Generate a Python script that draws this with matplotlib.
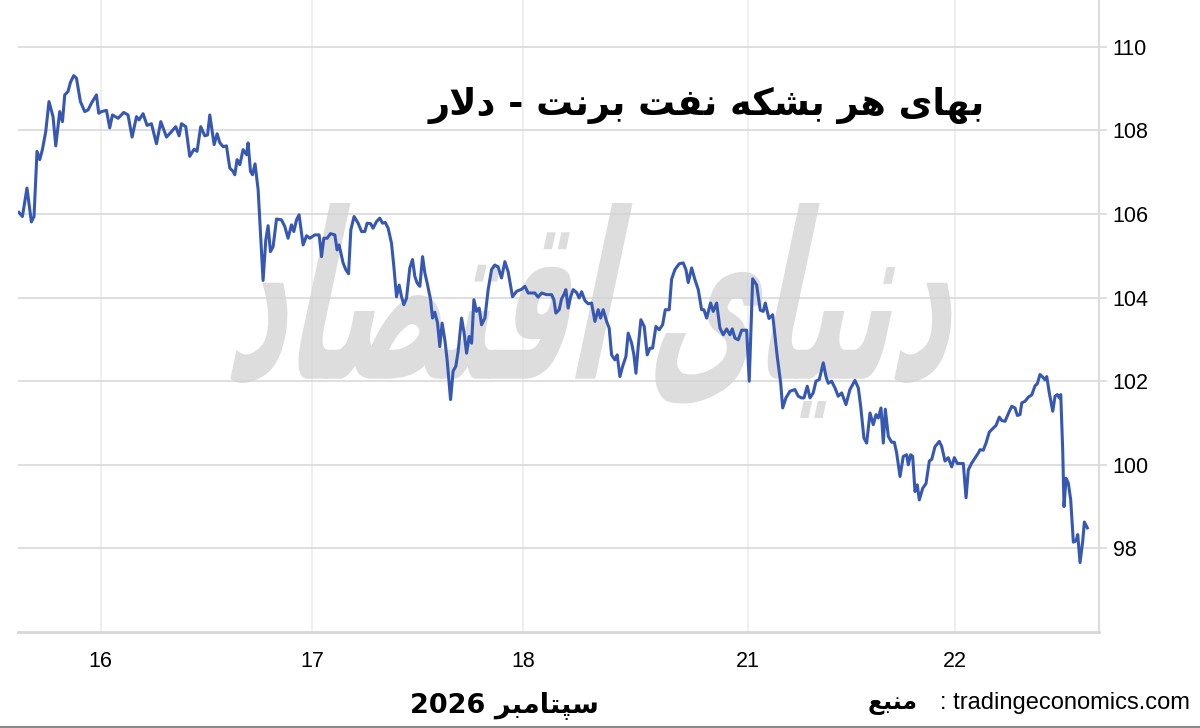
import matplotlib
matplotlib.use('Agg')
import matplotlib.pyplot as plt
from matplotlib.textpath import TextPath
from matplotlib.patches import PathPatch
from matplotlib.font_manager import FontProperties
from matplotlib.transforms import Affine2D
from matplotlib.lines import Line2D

# hours since the open of the 16th, Brent price in dollars
hours = [-9.3, -8.9, -8.38, -7.88, -7.58, -7.24, -6.93, -6.63, -6.25, -5.88,
         -5.42, -5.11, -4.66, -4.35, -4.09, -3.72, -3.44, -3.07, -2.76, -2.31,
         -1.82, -1.44, -1.06, -0.49, -0.23, 0.08, 0.65, 1.02, 1.33, 1.97,
         2.61, 3.10, 3.56, 4.06, 4.35, 4.81, 5.26, 5.76, 6.33, 6.82,
         7.47, 8.03, 8.52, 8.90, 9.17, 9.66, 10.11, 10.60, 10.94, 11.36,
         11.82, 12.13, 12.39, 12.88, 13.22, 13.52, 13.90, 14.28, 14.66, 15.03,
         15.23, 15.49, 15.80, 16.17, 16.56, 16.74, 17.01, 17.24, 17.53, 17.88,
         18.44, 18.75, 19.01, 19.28, 19.58, 19.97, 20.53, 20.91, 21.28, 21.67,
         21.93, 22.24, 22.53, 22.99, 23.38, 23.75, 24.32, 24.81, 25.08, 25.34,
         25.72, 26.10, 26.59, 26.85, 27.08, 27.53, 27.84, 28.15, 28.41, 28.78,
         29.24, 29.63, 30.00, 30.26, 30.65, 30.94, 31.33, 31.70, 32.01, 32.31,
         32.65, 33.03, 33.30, 33.60, 33.90, 34.17, 34.43, 34.74, 35.11, 35.42,
         35.68, 35.94, 36.25, 36.56, 36.82, 37.08, 37.47, 37.69, 37.95, 38.26,
         38.52, 38.78, 39.09, 39.35, 39.74, 40.03, 40.34, 40.60, 40.99, 41.28,
         41.56, 41.85, 42.13, 42.39, 42.69, 42.99, 43.26, 43.64, 44.01, 44.40,
         44.77, 45.15, 45.53, 45.91, 46.28, 46.78, 47.24, 47.81, 48.18, 48.56,
         49.32, 49.69, 50.08, 50.65, 51.22, 51.48, 51.70, 52.08, 52.35, 52.61,
         52.84, 53.10, 53.38, 53.67, 54.06, 54.35, 54.63, 55.00, 55.38, 55.76,
         56.14, 56.51, 56.78, 57.08, 57.47, 57.76, 58.03, 58.41, 58.67, 58.98,
         59.28, 59.66, 59.92, 60.31, 60.57, 60.80, 61.06, 61.36, 61.74, 62.08,
         62.39, 62.69, 63.07, 63.44, 63.83, 64.13, 64.58, 64.85, 65.23, 65.72,
         66.17, 66.48, 66.74, 67.13, 67.50, 67.88, 68.26, 68.52, 68.83, 69.28,
         69.58, 69.97, 70.34, 70.72, 71.10, 71.48, 71.74, 72.05, 72.42, 72.81,
         73.38, 73.67, 74.06, 74.51, 74.92, 75.26, 75.49, 75.91, 76.33, 76.85,
         77.24, 77.47, 77.84, 78.30, 78.86, 79.24, 79.62, 79.89, 80.26, 80.57,
         80.94, 81.25, 81.63, 82.08, 82.39, 82.65, 83.03, 83.41, 83.78, 84.17,
         84.66, 85.11, 85.68, 86.06, 86.33, 86.70, 87.01, 87.39, 87.76, 88.07,
         88.33, 88.64, 88.90, 89.13, 89.47, 89.85, 90.15, 90.42, 90.80, 91.17,
         91.56, 91.74, 92.01, 92.24, 92.50, 92.76, 92.99, 93.38, 93.75, 94.13,
         94.40, 94.77, 95.26, 95.53, 95.91, 96.28, 96.67, 96.97, 97.31, 97.99,
         98.30, 98.56, 98.94, 99.32, 99.69, 99.89, 100.26, 100.57, 100.94, 101.40,
         101.70, 102.08, 102.35, 102.73, 103.22, 103.49, 103.86, 104.13, 104.43, 104.63,
         105.00, 105.38, 105.76, 106.14, 106.40, 106.70, 107.01, 107.27, 107.47, 107.76,
         108.15, 108.41, 108.67, 108.90, 109.06, 109.28, 109.43, 109.66, 109.92, 110.19,
         110.49, 110.80, 110.99, 111.25, 111.56, 111.74, 112.08]

price = [106.04, 105.94, 106.62, 105.81, 105.94, 107.50, 107.30, 107.54, 107.97, 108.69,
         108.33, 107.63, 108.45, 108.21, 108.85, 108.93, 109.15, 109.31, 109.25, 108.69,
         108.45, 108.49, 108.65, 108.85, 108.41, 108.45, 108.48, 108.06, 108.37, 108.29,
         108.43, 108.37, 107.84, 108.33, 108.25, 108.40, 108.12, 108.16, 107.68, 108.21,
         107.84, 107.97, 108.09, 107.87, 108.16, 108.09, 107.38, 107.55, 107.50, 108.09,
         107.87, 107.89, 108.37, 107.66, 107.92, 107.71, 107.61, 107.63, 107.10, 107.02,
         106.94, 107.30, 107.18, 107.54, 107.42, 107.70, 107.02, 106.94, 107.20, 106.58,
         104.41, 105.38, 105.72, 105.10, 105.22, 105.88, 105.86, 105.70, 105.42, 105.74,
         105.58, 105.86, 105.98, 105.26, 105.48, 105.42, 105.50, 105.50, 104.98, 105.42,
         105.42, 105.53, 105.50, 105.14, 105.26, 104.83, 104.67, 104.57, 105.62, 105.94,
         105.78, 105.58, 105.58, 105.78, 105.77, 105.66, 105.82, 105.90, 105.78, 105.80,
         105.66, 105.30, 104.74, 104.02, 104.30, 104.02, 103.83, 103.99, 104.71, 104.91,
         104.51, 104.35, 104.27, 104.98, 104.59, 104.35, 103.95, 103.51, 103.65, 103.39,
         102.83, 103.39, 102.99, 102.51, 101.56, 102.24, 102.36, 102.71, 103.51, 103.15,
         102.67, 103.07, 102.91, 103.95, 103.67, 103.75, 103.35, 103.51, 104.19, 104.67,
         104.78, 104.73, 104.47, 104.86, 104.62, 104.02, 104.15, 104.20, 104.27, 104.11,
         104.11, 104.01, 104.11, 104.07, 104.07, 103.95, 103.63, 103.71, 103.97, 104.07,
         104.19, 103.75, 104.02, 104.19, 104.12, 103.99, 104.14, 103.93, 103.85, 103.87,
         103.43, 103.71, 103.51, 103.71, 103.43, 103.27, 102.63, 102.51, 102.63, 102.11,
         102.35, 102.59, 103.15, 102.91, 102.63, 102.19, 102.83, 103.47, 103.31, 102.63,
         102.79, 102.79, 103.31, 103.23, 103.35, 103.71, 103.71, 104.44, 104.67, 104.81,
         104.83, 104.67, 104.36, 104.71, 104.43, 104.19, 103.71, 103.71, 103.51, 103.87,
         103.67, 103.87, 103.27, 103.11, 103.25, 103.11, 103.25, 103.03, 102.99, 103.22,
         103.22, 102.00, 104.45, 104.30, 103.70, 103.67, 103.87, 103.50, 103.59, 102.59,
         101.96, 101.36, 101.60, 101.76, 101.80, 101.64, 101.60, 101.60, 101.88, 101.60,
         101.72, 102.00, 102.04, 102.44, 102.11, 101.95, 102.00, 101.84, 101.64, 101.72,
         101.44, 101.80, 102.02, 101.84, 101.40, 100.64, 100.52, 101.24, 100.96, 101.20,
         101.12, 101.36, 100.52, 101.33, 100.68, 100.54, 100.54, 100.28, 99.72, 100.20,
         100.24, 100.00, 100.24, 100.20, 99.36, 99.52, 99.16, 99.44, 99.55, 100.09,
         100.13, 100.43, 100.56, 100.44, 100.09, 100.17, 99.95, 100.17, 100.03, 100.03,
         99.21, 99.88, 100.04, 100.16, 100.28, 100.36, 100.35, 100.52, 100.78, 100.88,
         100.94, 101.14, 101.06, 101.04, 101.28, 101.40, 101.36, 101.18, 101.20, 101.48,
         101.52, 101.62, 101.67, 101.89, 101.94, 102.16, 102.10, 102.03, 102.11, 101.72,
         101.28, 101.64, 101.68, 101.60, 101.68, 100.36, 99.00, 99.68, 99.56, 99.16,
         98.15, 98.18, 98.33, 97.66, 98.18, 98.63, 98.49]

day_pos = [0, 24, 48, 73.5, 97]
day_labels = ['16', '17', '18', '21', '22']
price_ticks = [98, 100, 102, 104, 106, 108, 110]

title = 'بهای هر بشکه نفت برنت - دلار'
month = 'سپتامبر'
year = '2026'
source_word = 'منبع'
source = ': tradingeconomics.com'
watermark = 'دنیای اقتصاد'

# isolated, final, initial, medial
FORMS = {
    'ا': ('\uFE8D', '\uFE8E', None, None),
    'ب': ('\uFE8F', '\uFE90', '\uFE91', '\uFE92'),
    'پ': ('\uFB56', '\uFB57', '\uFB58', '\uFB59'),
    'ت': ('\uFE95', '\uFE96', '\uFE97', '\uFE98'),
    'د': ('\uFEA9', '\uFEAA', None, None),
    'ر': ('\uFEAD', '\uFEAE', None, None),
    'س': ('\uFEB1', '\uFEB2', '\uFEB3', '\uFEB4'),
    'ش': ('\uFEB5', '\uFEB6', '\uFEB7', '\uFEB8'),
    'ص': ('\uFEB9', '\uFEBA', '\uFEBB', '\uFEBC'),
    'ع': ('\uFEC9', '\uFECA', '\uFECB', '\uFECC'),
    'ف': ('\uFED1', '\uFED2', '\uFED3', '\uFED4'),
    'ق': ('\uFED5', '\uFED6', '\uFED7', '\uFED8'),
    'ک': ('\uFB8E', '\uFB8F', '\uFB90', '\uFB91'),
    'ل': ('\uFEDD', '\uFEDE', '\uFEDF', '\uFEE0'),
    'م': ('\uFEE1', '\uFEE2', '\uFEE3', '\uFEE4'),
    'ن': ('\uFEE5', '\uFEE6', '\uFEE7', '\uFEE8'),
    'ه': ('\uFEE9', '\uFEEA', '\uFEEB', '\uFEEC'),
    'ی': ('\uFBFC', '\uFBFD', '\uFBFE', '\uFBFF'),
}


def joins_next(ch):
    return ch in FORMS and FORMS[ch][2] is not None


def shape(text):
    # pick contextual letter forms, then flip to visual (left to right) order
    out = []
    i = 0
    while i < len(text):
        ch = text[i]
        if ch not in FORMS:
            out.append(ch)
            i += 1
            continue
        left = i > 0 and joins_next(text[i - 1])
        if ch == 'ل' and i + 1 < len(text) and text[i + 1] == 'ا':
            out.append('\uFEFC' if left else '\uFEFB')
            i += 2
            continue
        right = joins_next(ch) and i + 1 < len(text) and text[i + 1] in FORMS
        iso, fin, ini, med = FORMS[ch]
        if left and right:
            out.append(med)
        elif left:
            out.append(fin)
        elif right:
            out.append(ini)
        else:
            out.append(iso)
        i += 1
    return ''.join(reversed(out))


fig = plt.figure(figsize=(12, 7.28), dpi=100)
ax = fig.add_axes([0.015, 0.1319, 0.9008, 0.8681])

ax.plot(hours, price, color='#3658b2', lw=2.2, zorder=4, solid_joinstyle='round')

ax.set_xlim(-9.4, 113.4)
ax.set_ylim(96, 111.12)
ax.yaxis.tick_right()
ax.set_yticks(price_ticks)
ax.set_xticks(day_pos, day_labels)
ax.xaxis.grid(True, color='#ececec', lw=1.2)
ax.yaxis.grid(True, color='#dcdcdc', lw=1.3)
ax.set_axisbelow(True)
for side in ['top', 'left']:
    ax.spines[side].set_visible(False)
ax.spines['right'].set_color('#dcdcdc')
ax.spines['right'].set_linewidth(1.4)
ax.spines['bottom'].set_color('#d6d6d6')
ax.spines['bottom'].set_linewidth(2)
ax.tick_params(axis='y', length=6, color='#dcdcdc', width=1.3, pad=4)
ax.tick_params(axis='x', length=0, pad=14)
for lab in ax.get_xticklabels() + ax.get_yticklabels():
    lab.set_fontfamily('Liberation Sans')
    lab.set_fontsize(15.5)

# faint logo behind the line, above the grid
fp = FontProperties(family='DejaVu Sans', weight='bold')
wm = TextPath((0, 0), shape(watermark), size=1, prop=fp)
ext = wm.get_extents()
sx = 710 / ext.width
sy = 215 / ext.height
tr = (Affine2D().translate(-ext.x0, -ext.y0).scale(sx, sy)
      .skew_deg(12, 0).translate(222, 728 - 418))
ax.add_patch(PathPatch(wm, transform=tr, facecolor='#d2d2d2', alpha=0.75,
                       edgecolor='none', zorder=2, clip_on=False))

fig.text(985 / 1200, 1 - 105 / 728, shape(title), ha='right', va='center',
         fontsize=26.5, fontweight='bold', family='DejaVu Sans')
fig.text(410 / 1200, 1 - 705 / 728, year + ' ' + shape(month), ha='left',
         va='center', fontsize=19.5, fontweight='bold', family='DejaVu Sans')
fig.text(1190 / 1200, 1 - 703 / 728, source, ha='right', va='center',
         fontsize=17, family='Liberation Sans')
fig.text(918 / 1200, 1 - 703 / 728, shape(source_word), ha='right',
         va='center', fontsize=17, fontweight='bold', family='DejaVu Sans')
fig.add_artist(Line2D([0, 1], [0.0015, 0.0015], color='#8a8a8a', lw=1.5))

fig.savefig('out.png', dpi=100)
